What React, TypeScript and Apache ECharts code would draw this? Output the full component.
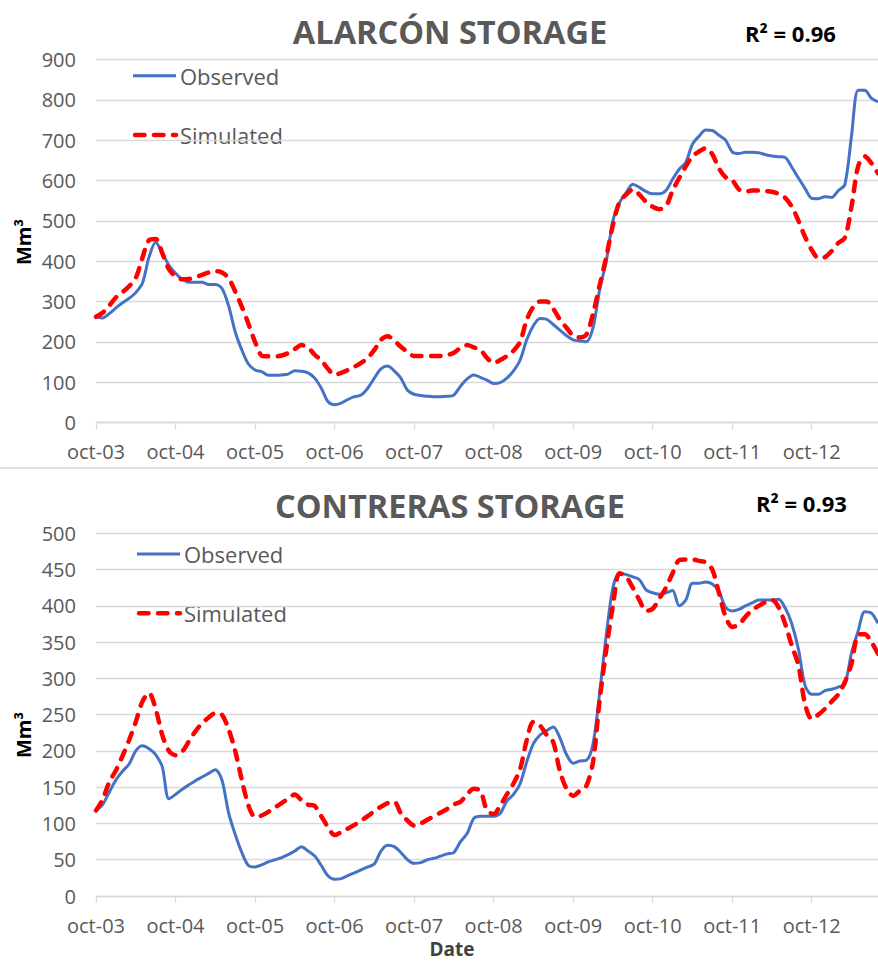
import React, { useEffect, useRef } from "react";
import * as echarts from "echarts";

const MONTHS = ["oct", "nov", "dic", "jan", "feb", "mar", "apr", "may", "jun", "jul", "aug", "sep"];
const N = 119;
const categories: string[] = Array.from({ length: N }, (_, i) => {
  const m = i % 12;
  const year = 3 + Math.floor(i / 12);
  return `${MONTHS[m]}-${String(year).padStart(2, "0")}`;
});

const alarconObserved = [
  262, 259, 270, 284, 297, 308, 322, 345, 410, 447, 420, 390,
  370, 355, 348, 348, 348, 342, 342, 333, 290, 225, 180, 145,
  130, 126, 117, 117, 118, 120, 128, 127, 123, 110, 85, 52,
  44, 48, 57, 64, 68, 85, 110, 133, 140, 128, 110, 80,
  70, 67, 65, 64, 64, 65, 68, 90, 108, 118, 112, 105,
  97, 99, 110, 128, 155, 205, 240, 258, 256, 243, 229, 215,
  205, 202, 200, 235, 329, 400, 500, 545, 570, 591, 583, 573,
  567, 567, 575, 603, 628, 645, 690, 710, 725, 724, 712, 700,
  671, 667, 670, 670, 669, 664, 661, 659, 657, 633, 606, 580,
  556, 555, 560, 558, 575, 590, 710, 824, 824, 804, 795,
];
const alarconSimulated = [
  262, 272, 290, 310, 323, 338, 358, 408, 452, 455, 420, 380,
  362, 355, 356, 360, 366, 372, 375, 372, 358, 325, 287, 245,
  200, 166, 164, 164, 166, 172, 182, 192, 186, 168, 154, 133,
  118, 123, 130, 138, 148, 160, 180, 205, 214, 203, 188, 175,
  165, 165, 165, 165, 165, 167, 173, 185, 192, 186, 180, 160,
  147, 155, 165, 178, 200, 255, 287, 300, 300, 282, 255, 235,
  215, 211, 218, 270, 340, 411, 490, 547, 565, 578, 565, 547,
  535, 529, 536, 575, 606, 635, 660, 672, 680, 665, 630, 608,
  601, 578, 572, 575, 575, 574, 572, 567, 557, 535, 500, 460,
  428, 408, 410, 425, 445, 458, 535, 635, 660, 643, 618,
];
const contrerasObserved = [
  118, 126, 143, 160, 172, 182, 200, 207, 203, 195, 178, 134,
  140, 147, 153, 159, 164, 169, 174, 160, 115, 85, 60, 42,
  40, 43, 47, 50, 53, 57, 62, 68, 62, 55, 42, 28,
  23, 24, 28, 32, 36, 40, 44, 62, 70, 68, 60, 50,
  45, 46, 50, 52, 55, 58, 60, 75, 86, 107, 110, 110,
  110, 114, 131, 140, 155, 185, 210, 222, 228, 233, 218, 195,
  183, 186, 187, 210, 280, 360, 425, 445, 443, 440, 436, 422,
  418, 416, 418, 421, 400, 408, 431, 431, 433, 430, 420, 398,
  393, 395, 400, 404, 408, 408, 408, 409, 397, 375, 340, 290,
  278, 278, 283, 285, 288, 292, 335, 365, 392, 390, 376,
];
const contrerasSimulated = [
  118, 133, 157, 173, 193, 215, 240, 268, 280, 258, 222, 200,
  194, 199, 213, 227, 238, 246, 252, 250, 230, 200, 160, 125,
  109, 111, 116, 122, 128, 134, 140, 132, 126, 124, 110, 95,
  84, 88, 93, 98, 104, 110, 117, 123, 128, 130, 114, 104,
  97, 100, 105, 110, 115, 120, 126, 130, 140, 148, 145, 118,
  113, 125, 140, 155, 175, 215, 240, 235, 222, 212, 172, 148,
  138, 145, 152, 185, 270, 340, 400, 445, 440, 425, 408, 393,
  396, 410, 425, 445, 463, 464, 464, 462, 460, 450, 418, 385,
  371, 374, 385, 394, 400, 405, 408, 398, 375, 345, 318, 264,
  244, 250, 258, 268, 278, 295, 320, 360, 361, 350, 334,
];

const TITLES = ["ALARCÓN STORAGE", "CONTRERAS STORAGE"];
const R2 = ["R² = 0.96", "R² = 0.93"];
const SERIES_NAMES = ["Observed", "Simulated"];

const FONT = "'Open Sans', sans-serif";
const GRAY = "#595959";
const GRID_COLOR = "#d9d9d9";
const BLUE = "#4472C4";
const RED = "#FF0000";

export default function App() {
  const ref = useRef<HTMLDivElement>(null);
  useEffect(() => {
    document.body.style.margin = "0";
    if (!ref.current) return;
    const chart = echarts.init(ref.current, undefined, { renderer: "svg" });

    const grids = [
      { left: 96, right: 0, top: 59.5, height: 363 },
      { left: 96, right: 0, top: 533.3, height: 362.7 },
    ];
    const yMax = [900, 500];
    const yInt = [100, 50];

    const xAxis = grids.map((_, gi) => ({
      type: "category",
      gridIndex: gi,
      data: categories,
      boundaryGap: false,
      axisLine: { show: true, lineStyle: { color: GRID_COLOR, width: 1.3 } },
      axisTick: { show: true, interval: 11, length: 7, lineStyle: { color: GRID_COLOR, width: 1.3 } },
      axisLabel: {
        interval: 11,
        color: GRAY,
        fontFamily: FONT,
        fontSize: 20,
        margin: 19,
        formatter: (v: string) => (v.startsWith("oct") ? v : ""),
      },
      splitLine: { show: false },
    }));
    const yAxis = grids.map((_, gi) => ({
      type: "value",
      gridIndex: gi,
      min: 0,
      max: yMax[gi],
      interval: yInt[gi],
      axisLine: { show: false },
      axisTick: { show: false },
      axisLabel: { color: GRAY, fontFamily: FONT, fontSize: 20, margin: 20 },
      splitLine: { lineStyle: { color: GRID_COLOR, width: 1.3 } },
    }));

    const data = [
      [alarconObserved, alarconSimulated],
      [contrerasObserved, contrerasSimulated],
    ];
    const series: any[] = [];
    data.forEach((pair, gi) => {
      series.push({
        name: SERIES_NAMES[0],
        type: "line",
        xAxisIndex: gi,
        yAxisIndex: gi,
        data: pair[0],
        symbol: "none",
        smooth: 0.3,
        lineStyle: { color: BLUE, width: 3 },
        itemStyle: { color: BLUE },
        z: 2,
      });
      series.push({
        name: SERIES_NAMES[1],
        type: "line",
        xAxisIndex: gi,
        yAxisIndex: gi,
        data: pair[1],
        symbol: "none",
        smooth: 0.3,
        lineStyle: { color: RED, width: 4.5, type: [9.5, 9.5], cap: "round" },
        itemStyle: { color: RED },
        z: 3,
      });
    });

    const titleY = [31, 505];
    const r2Pos = [
      [745, 33],
      [756, 503],
    ];
    const axisNameY = [242, 735];
    const legendX = [133, 137];
    const legendY = [
      [75.7, 135],
      [554, 613.3],
    ];

    const graphic: any[] = [];
    [0, 1].forEach((i) => {
      graphic.push({
        type: "text",
        x: 450,
        y: titleY[i],
        style: {
          text: TITLES[i],
          fill: GRAY,
          font: `bold 32.5px ${FONT}`,
          textAlign: "center",
          textVerticalAlign: "middle",
        },
      });
      graphic.push({
        type: "text",
        x: r2Pos[i][0],
        y: r2Pos[i][1],
        style: {
          text: R2[i],
          fill: "#000000",
          font: `bold 22px ${FONT}`,
          textAlign: "left",
          textVerticalAlign: "middle",
        },
      });
      graphic.push({
        type: "text",
        x: 23,
        y: axisNameY[i],
        rotation: Math.PI / 2,
        style: {
          text: "Mm³",
          fill: "#000000",
          font: `bold 20px ${FONT}`,
          textAlign: "center",
          textVerticalAlign: "middle",
        },
      });
      const lx = legendX[i];
      graphic.push({
        type: "line",
        shape: { x1: lx, y1: legendY[i][0], x2: lx + 43, y2: legendY[i][0] },
        style: { stroke: BLUE, lineWidth: 3 },
      });
      graphic.push({
        type: "text",
        x: lx + 47,
        y: legendY[i][0],
        style: {
          text: SERIES_NAMES[0],
          fill: GRAY,
          font: `22px ${FONT}`,
          textAlign: "left",
          textVerticalAlign: "middle",
        },
      });
      graphic.push({
        type: "line",
        shape: { x1: lx + 2, y1: legendY[i][1], x2: lx + 43, y2: legendY[i][1] },
        style: { stroke: RED, lineWidth: 4.5, lineDash: [9.5, 9.5], lineCap: "round" },
      });
      graphic.push({
        type: "text",
        x: lx + 47,
        y: legendY[i][1],
        style: {
          text: SERIES_NAMES[1],
          fill: GRAY,
          font: `22px ${FONT}`,
          textAlign: "left",
          textVerticalAlign: "middle",
        },
      });
    });
    graphic.push({
      type: "line",
      shape: { x1: 0, y1: 468, x2: 878, y2: 468 },
      style: { stroke: GRID_COLOR, lineWidth: 1.5 },
    });
    graphic.push({
      type: "text",
      x: 452,
      y: 949,
      style: {
        text: "Date",
        fill: "#404040",
        font: `bold 19px ${FONT}`,
        textAlign: "center",
        textVerticalAlign: "middle",
      },
    });

    chart.setOption({
      animation: false,
      backgroundColor: "#ffffff",
      grid: grids,
      xAxis,
      yAxis,
      series,
      graphic,
    });
    return () => chart.dispose();
  }, []);
  return <div ref={ref} style={{ width: 878, height: 962 }} />;
}
